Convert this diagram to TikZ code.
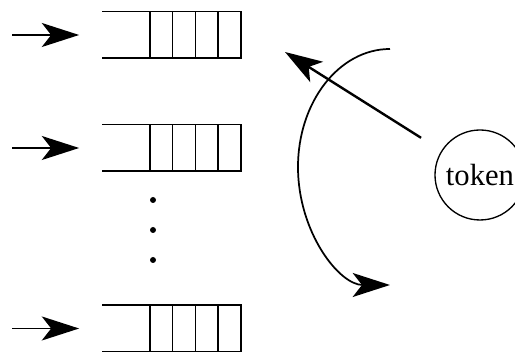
\documentclass[tikz,border=0pt]{standalone}
\usepackage{fontspec}
\setmainfont{Liberation Serif}
\usetikzlibrary{arrows.meta}

\begin{document}
\begin{tikzpicture}
      [x=0.75pt,y=0.75pt,line width=1.3pt,
      >={Stealth[length=28pt,width=18pt,inset=7pt]},
      queue/.style={minimum width=102.75pt,minimum height=33.75pt,inner sep=0pt},
      dot/.style={circle,fill,inner sep=0pt,minimum size=4.5pt},
      token node/.style={circle,draw,line width=1pt,minimum size=67.5pt,inner sep=0pt,
        font=\fontsize{23}{27}\selectfont}]
      \useasboundingbox (0,0) rectangle (515,352);
      % three queues, the middle ones left out as dots
      \node[queue] (q1) at (171.5,317) {};
      \node[queue] (q2) at (171.5,204) {};
      \node[queue] (q3) at (171.5,23.5) {};
      \node[dot] (d1) at (153,152) {};
      \node[dot] (d2) at (153,122) {};
      \node[dot] (d3) at (153,92) {};
      \foreach \q in {q1,q2,q3} {
        \draw (\q.north west) -- (\q.north east) -- (\q.south east) -- (\q.south west);
        \foreach \k in {1,...,4}
          \draw ([xshift=-\k*17.06pt]\q.north east) -- ([xshift=-\k*17.06pt]\q.south east);
      }
      % arriving packets
      \coordinate (in1) at (12,317);
      \coordinate (in2) at (12,204);
      \coordinate (in3) at (12,23.5);
      \draw[->,shorten >=17.25pt] (in1) -- (q1.west);
      \draw[->,shorten >=17.25pt] (in2) -- (q2.west);
      \draw[->,shorten >=17.25pt] (in3) -- (q3.west);
      % the token going round
      \node[token node] (tok) at (480,177) {token};
      \coordinate (hand) at (285,300);
      \draw[->,line width=1.8pt,shorten <=18pt] (tok) -- (hand);
      \coordinate (top) at (390,303);
      \draw[->] (top) arc[start angle=90,end angle=270,x radius=92,y radius=118];
    \end{tikzpicture}
\end{document}
